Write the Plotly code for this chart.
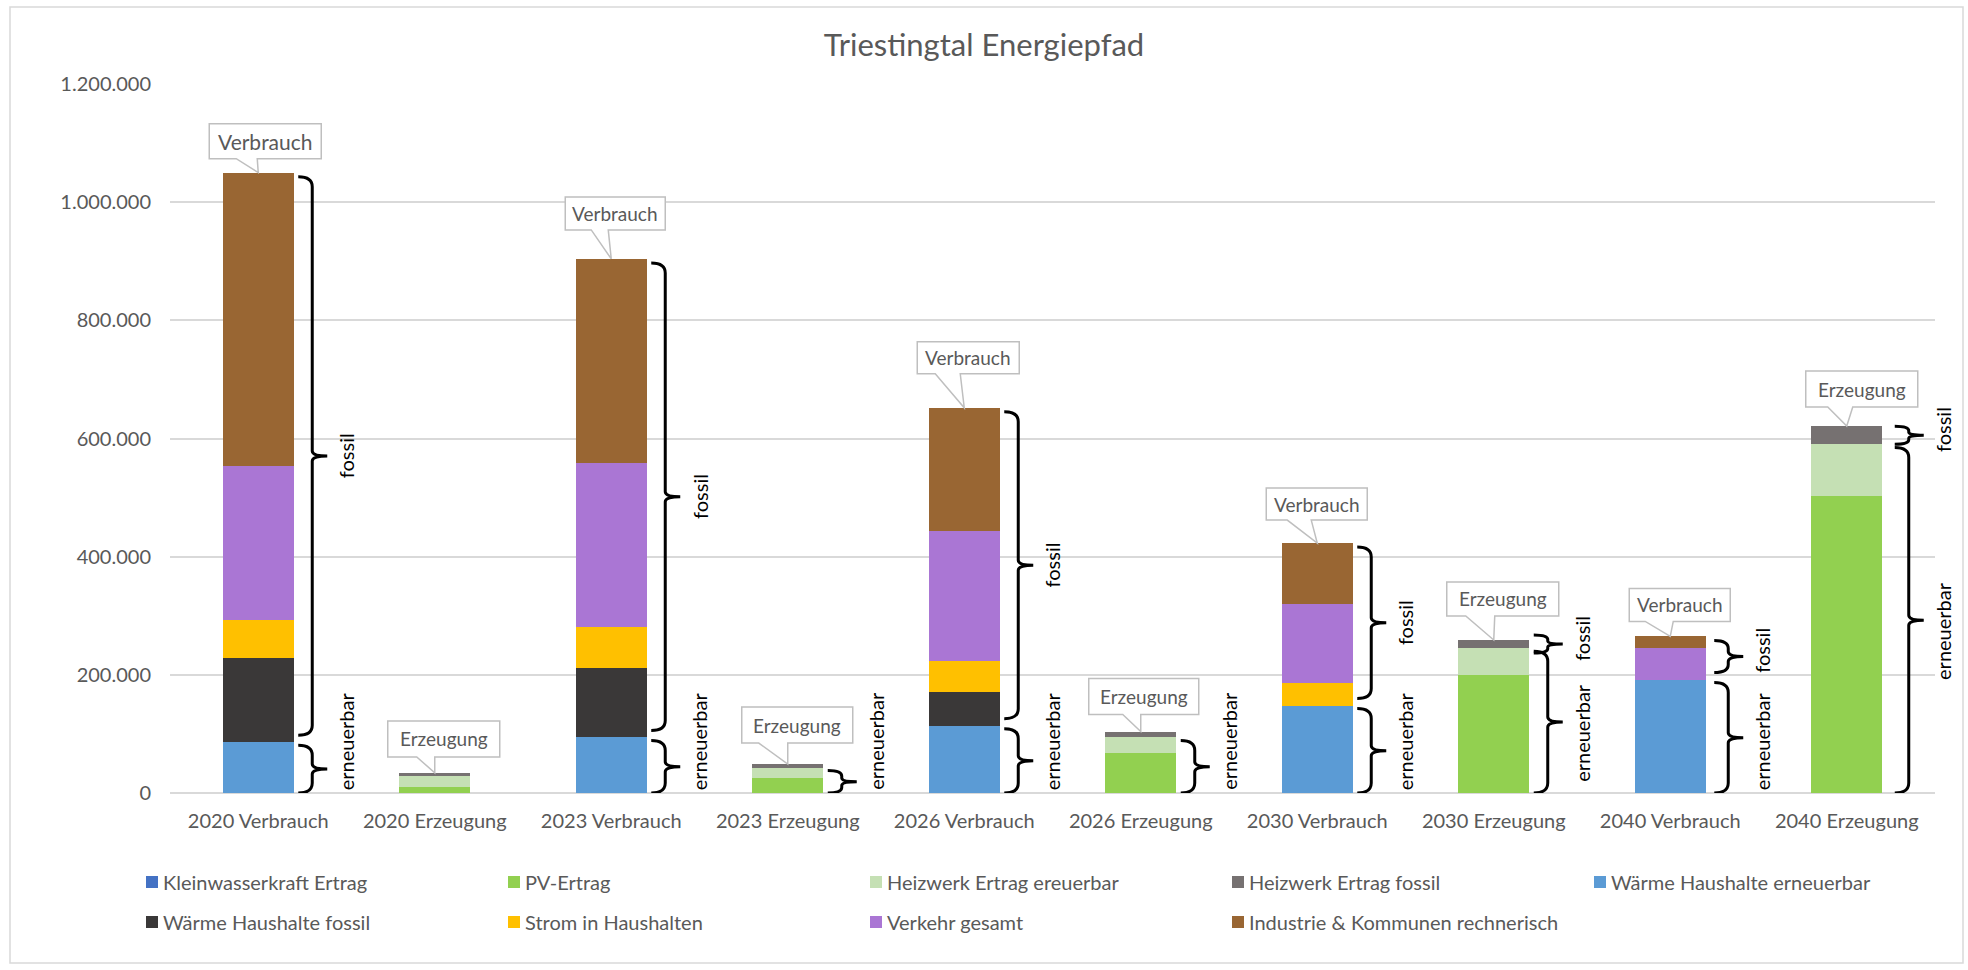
import plotly.graph_objects as go

# ---------------- data ----------------
categories = ["2020 Verbrauch", "2020 Erzeugung", "2023 Verbrauch", "2023 Erzeugung",
              "2026 Verbrauch", "2026 Erzeugung", "2030 Verbrauch", "2030 Erzeugung",
              "2040 Verbrauch", "2040 Erzeugung"]

kleinwasserkraft_ertrag = [0, 0, 0, 0, 0, 0, 0, 0, 0, 0]
pv_ertrag = [0, 11000, 0, 26000, 0, 68000, 0, 200000, 0, 503000]
heizwerk_erneuerbar = [0, 17000, 0, 17000, 0, 26000, 0, 45000, 0, 87000]
heizwerk_fossil = [0, 6000, 0, 6000, 0, 10000, 0, 14000, 0, 31000]
waerme_erneuerbar = [86000, 0, 94000, 0, 114000, 0, 148000, 0, 192000, 0]
waerme_fossil = [142000, 0, 117000, 0, 57000, 0, 0, 0, 0, 0]
strom_haushalte = [64000, 0, 70000, 0, 53000, 0, 38000, 0, 0, 0]
verkehr_gesamt = [261000, 0, 277000, 0, 220000, 0, 134000, 0, 53000, 0]
industrie_kommunen = [497000, 0, 346000, 0, 208000, 0, 103000, 0, 20000, 0]

series_names = ["Kleinwasserkraft Ertrag", "PV-Ertrag", "Heizwerk Ertrag ereuerbar",
                "Heizwerk Ertrag fossil", "Wärme Haushalte erneuerbar",
                "Wärme Haushalte fossil", "Strom in Haushalten", "Verkehr gesamt",
                "Industrie & Kommunen rechnerisch"]
series_values = [kleinwasserkraft_ertrag, pv_ertrag, heizwerk_erneuerbar, heizwerk_fossil,
                 waerme_erneuerbar, waerme_fossil, strom_haushalte, verkehr_gesamt,
                 industrie_kommunen]
renewable_flags = [True, True, True, False, True, False, False, False, False]

callout_labels = ["Verbrauch", "Erzeugung"] * 5
show_brace_ern = [True, False, True, True, True, True, True, True, True, True]
show_brace_fossil = [True, False, True, False, True, False, True, True, True, True]

y_ticks = [0, 200000, 400000, 600000, 800000, 1000000, 1200000]

# ---------------- styles / layout ----------------
colors = ["#4472C4", "#92D050", "#C5E0B4", "#767171", "#5B9BD5",
          "#3A3838", "#FFC000", "#AA76D4", "#996633"]
FONT = "Lato, 'Open Sans', sans-serif"
GREY = "#595959"
W, H = 1968, 970
ML, MR, MT, MB = 170, 33, 84, 177
PW, PH = W - ML - MR, H - MT - MB
Y_MAX = 1200000
ppu = PH / Y_MAX  # pixels per data unit

# callout geometry in pixels relative to bar top: (left, right, bottom gap, top, tail left, tail right, font)
callout_geom = [(-49, 63, 14, 49, -22, -1, 21), (-47, 65, 16, 52, -18, 0, 19),
                (-46, 54, 29, 62, -20, -3, 19), (-46, 65, 21, 57, -29, 0, 19),
                (-47, 55, 34, 66, -29, -4, 19), (-52, 58, 17, 53, -18, 0, 19),
                (-51, 50, 23, 55, -30, -6, 19), (-47, 65, 24, 58, -28, 1, 19),
                (-41, 60, 15, 48, -25, 3, 19), (-41, 71, 19, 55, -19, 6, 19)]
# extra horizontal shift (px) of braces and their labels per bar
brace_shift = [0, 0, 0, 0, 0, 0, 0, 0, 4, 8]


def px_x(px):
    return (px - ML) / PW


def px_y(py):
    return (H - MB - py) / PH


fig = go.Figure()
for name, vals, col in zip(series_names, series_values, colors):
    fig.add_trace(go.Bar(x=categories, y=vals, name=name, marker=dict(color=col, line=dict(width=0)),
                         showlegend=False))

shapes = []
annotations = []

totals = [sum(s[i] for s in series_values) for i in range(len(categories))]
ren = [sum(s[i] for s, f in zip(series_values, renewable_flags) if f) for i in range(len(categories))]


def brace_path(y0, y1, dx=0, hook=40, line=54, spike=69):
    hook, line, spike = hook + dx, line + dx, spike + dx
    span_px = (y1 - y0) * ppu
    r = min(10, span_px / 4) / ppu
    r2 = min(5, span_px / 6) / ppu
    ym = (y0 + y1) / 2
    return (f"M {hook},{y1} Q {line},{y1} {line},{y1 - r} "
            f"L {line},{ym + r2} Q {line},{ym} {spike},{ym} "
            f"Q {line},{ym} {line},{ym - r2} "
            f"L {line},{y0 + r} Q {line},{y0} {hook},{y0}")


for i, cat in enumerate(categories):
    tot, rv = totals[i], ren[i]
    dx = brace_shift[i]
    # braces
    if show_brace_ern[i]:
        y0, y1 = 0, rv - 3 / ppu
        shapes.append(dict(type="path", xref="x", yref="y", xsizemode="pixel", xanchor=i,
                           path=brace_path(y0, y1, dx), line=dict(color="black", width=3),
                           layer="above"))
        ylab = max((y0 + y1) / 2 - 11 / ppu, 52 / ppu)
        annotations.append(dict(x=i, y=ylab, xref="x", yref="y", xshift=88 + dx, text="erneuerbar",
                                textangle=-90, showarrow=False, xanchor="center", yanchor="middle",
                                font=dict(family=FONT, size=20, color="black")))
    if show_brace_fossil[i]:
        lo_px, hi_px = rv * ppu + 7, tot * ppu - 4
        small = hi_px - lo_px < 40
        if hi_px - lo_px < 18:
            mid = (rv + tot) / 2 * ppu
            lo_px, hi_px = mid - 9, mid + 9
        y0, y1 = lo_px / ppu, hi_px / ppu
        shapes.append(dict(type="path", xref="x", yref="y", xsizemode="pixel", xanchor=i,
                           path=brace_path(y0, y1, dx), line=dict(color="black", width=3),
                           layer="above"))
        ylab = (y0 + y1) / 2 + (6 / ppu if small else 0)
        annotations.append(dict(x=i, y=ylab, xref="x", yref="y", xshift=88 + dx, text="fossil",
                                textangle=-90, showarrow=False, xanchor="center", yanchor="middle",
                                font=dict(family=FONT, size=20, color="black")))
    # callouts
    bx0, bx1, bb, bt, tl, tr, fs = callout_geom[i]
    path = (f"M {bx0},{bb} L {tl},{bb} L 0,0 L {tr},{bb} L {bx1},{bb} "
            f"L {bx1},{bt} L {bx0},{bt} Z")
    shapes.append(dict(type="path", xref="x", yref="y", xsizemode="pixel", ysizemode="pixel",
                       xanchor=i, yanchor=tot, path=path, fillcolor="white",
                       line=dict(color="#BFBFBF", width=1.5), layer="above"))
    annotations.append(dict(x=i, y=tot, xref="x", yref="y", xshift=(bx0 + bx1) / 2,
                            yshift=(bb + bt) / 2, text=callout_labels[i], showarrow=False,
                            xanchor="center", yanchor="middle",
                            font=dict(family=FONT, size=fs, color=GREY)))

# custom legend
leg_cols = [146, 508, 870, 1232, 1594]
leg_rows = [882, 922]
for k, (name, col) in enumerate(zip(series_names, colors)):
    cx = leg_cols[k % 5]
    cy = leg_rows[k // 5]
    shapes.append(dict(type="rect", xref="paper", yref="paper",
                       x0=px_x(cx), x1=px_x(cx + 12), y0=px_y(cy - 6), y1=px_y(cy + 6),
                       fillcolor=col, line=dict(width=0)))
    annotations.append(dict(x=px_x(cx + 15), y=px_y(cy), xref="paper", yref="paper", text=name,
                            showarrow=False, xanchor="left", yanchor="middle",
                            font=dict(family=FONT, size=20, color=GREY)))

# outer chart border
shapes.append(dict(type="rect", xref="paper", yref="paper", x0=px_x(10), x1=px_x(1963),
                   y0=px_y(963), y1=px_y(7), line=dict(color="#D9D9D9", width=1.5),
                   fillcolor="rgba(0,0,0,0)", layer="below"))

fig.update_layout(
    width=W, height=H,
    margin=dict(l=ML, r=MR, t=MT, b=MB, autoexpand=False),
    barmode="stack", bargap=0.6,
    paper_bgcolor="white", plot_bgcolor="white",
    separators=",.",
    title=dict(text="Triestingtal Energiepfad", x=0.5, xref="container", xanchor="center",
               y=1 - 45 / H, yref="container", yanchor="middle",
               font=dict(family=FONT, size=31, color=GREY)),
    font=dict(family=FONT, color=GREY),
    showlegend=False,
    shapes=shapes, annotations=annotations,
)
fig.update_xaxes(type="category", range=[-0.5, len(categories) - 0.5], autorange=False,
                 showgrid=False, showline=False, zeroline=False, ticks="",
                 tickfont=dict(family=FONT, size=20, color=GREY), ticklabelstandoff=14,
                 fixedrange=True)
fig.update_yaxes(range=[0, Y_MAX], autorange=False, tickvals=y_ticks, tickformat=",.0f",
                 showgrid=True, gridcolor="#D9D9D9", gridwidth=1.5, zeroline=True,
                 zerolinecolor="#D9D9D9", zerolinewidth=2, showline=False, ticks="",
                 ticklabelstandoff=18, tickfont=dict(family=FONT, size=20, color=GREY),
                 fixedrange=True)

fig.write_html("out.html")
